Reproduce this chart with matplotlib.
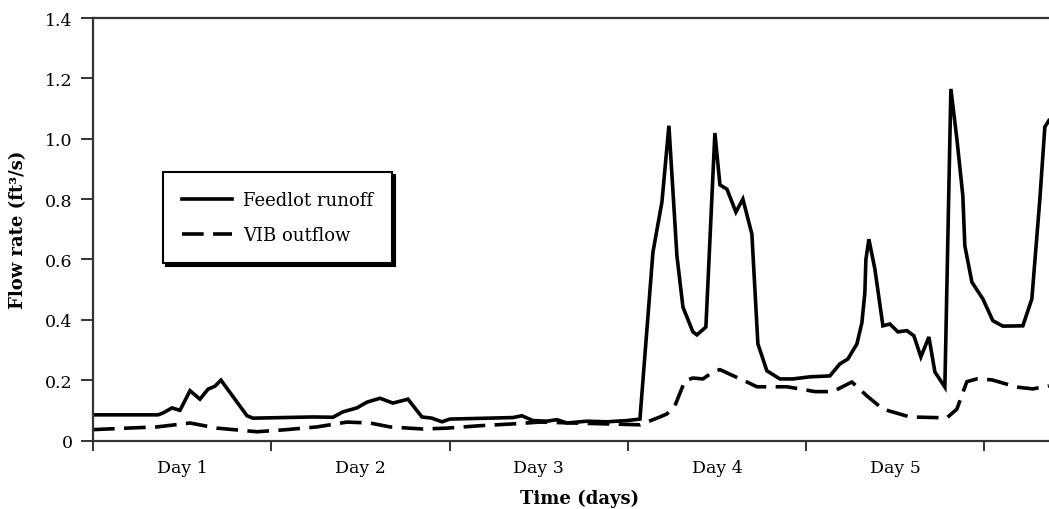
import matplotlib
matplotlib.use("Agg")
import matplotlib.pyplot as plt
from matplotlib.ticker import FixedLocator, NullFormatter

# time in hours from start, flow in ft3/s
runoff_t = [0.0, 8.75, 9.42, 10.63, 11.71, 13.06, 14.40, 15.48, 16.42, 17.23,
            20.73, 21.54, 29.61, 32.30, 33.65, 35.53, 36.88, 38.63, 40.38, 42.40,
            44.28, 45.63, 46.98, 48.05, 56.53, 57.74, 59.22, 61.11, 62.45, 63.80,
            66.49, 69.18, 71.88, 73.63, 75.38, 76.59, 77.53, 78.61, 79.42, 80.76,
            81.30, 82.51, 83.72, 84.40, 85.34, 86.55, 87.49, 88.70, 89.51, 90.72,
            92.47, 94.22, 96.51, 99.20, 100.55, 101.62, 102.84, 103.51, 103.91, 104.05,
            104.45, 105.26, 106.34, 107.28, 108.36, 109.57, 110.51, 111.45, 112.53, 113.34,
            114.68, 115.49, 116.30, 117.10, 117.37, 118.32, 119.80, 121.14, 122.49, 125.18,
            126.39, 127.47, 128.14, 128.68]
runoff_q = [0.085, 0.085, 0.091, 0.108, 0.100, 0.165, 0.137, 0.170, 0.180, 0.200,
            0.082, 0.074, 0.078, 0.077, 0.095, 0.108, 0.127, 0.140, 0.124, 0.137,
            0.078, 0.074, 0.062, 0.071, 0.076, 0.082, 0.066, 0.064, 0.069, 0.058,
            0.064, 0.062, 0.066, 0.071, 0.624, 0.790, 1.043, 0.612, 0.442, 0.360,
            0.350, 0.376, 1.019, 0.847, 0.833, 0.757, 0.800, 0.684, 0.320, 0.231,
            0.204, 0.204, 0.211, 0.214, 0.254, 0.270, 0.320, 0.390, 0.490, 0.600,
            0.667, 0.568, 0.380, 0.386, 0.360, 0.364, 0.347, 0.277, 0.343, 0.227,
            0.177, 1.165, 0.999, 0.811, 0.645, 0.525, 0.469, 0.397, 0.379, 0.380,
            0.469, 0.800, 1.039, 1.060]

vib_t = [0.0, 4.58, 8.61, 13.06, 16.69, 22.07, 25.57, 30.15, 34.19, 37.28,
         39.98, 44.42, 47.65, 52.09, 56.53, 60.16, 64.61, 69.18, 73.63, 76.32,
         77.26, 78.34, 79.68, 80.76, 82.11, 83.45, 84.40, 86.14, 88.03, 89.38,
         93.41, 95.16, 97.18, 99.61, 102.16, 104.18, 106.34, 109.97, 114.95, 116.30,
         117.64, 118.99, 121.01, 124.37, 126.52, 128.68]
vib_q = [0.036, 0.041, 0.045, 0.058, 0.041, 0.029, 0.035, 0.045, 0.061, 0.058,
         0.045, 0.038, 0.041, 0.049, 0.055, 0.061, 0.058, 0.055, 0.052, 0.078,
         0.088, 0.115, 0.198, 0.207, 0.204, 0.227, 0.235, 0.215, 0.194, 0.178,
         0.178, 0.171, 0.162, 0.162, 0.194, 0.148, 0.104, 0.078, 0.075, 0.104,
         0.195, 0.204, 0.201, 0.177, 0.171, 0.181]

day_edges = [0, 24, 48, 72, 96, 120]
day_centers = [12, 36, 60, 84, 108]
day_labels = ["Day 1", "Day 2", "Day 3", "Day 4", "Day 5"]
y_ticks = [0, 0.2, 0.4, 0.6, 0.8, 1.0, 1.2, 1.4]
y_labels = ["0", "0.2", "0.4", "0.6", "0.8", "1.0", "1.2", "1.4"]

plt.rcParams["font.family"] = ["DejaVu Serif"]
plt.rcParams["font.size"] = 13

fig = plt.figure(figsize=(10.49, 5.10), dpi=100)
ax = fig.add_axes([93 / 1049, 68.5 / 510, 956 / 1049, 422.5 / 510])

ax.plot(runoff_t, runoff_q, color="black", lw=2.6, label="Feedlot runoff",
        solid_joinstyle="miter")
ax.plot(vib_t, vib_q, color="black", lw=2.6, linestyle=(0, (6, 2.6)),
        label="VIB outflow")

ax.set_xlim(0, 128.7)
ax.set_ylim(0, 1.4)

spine_col = "#333333"
for s in ["left", "bottom", "top"]:
    ax.spines[s].set_color(spine_col)
    ax.spines[s].set_linewidth(1.6)
ax.spines["right"].set_visible(False)

ax.set_yticks(y_ticks)
ax.set_yticklabels(y_labels)
ax.tick_params(axis="y", direction="out", length=8.5, width=1.4, color=spine_col,
               pad=6, labelsize=12.5)

ax.set_xticks(day_centers)
ax.set_xticklabels(day_labels)
ax.xaxis.set_minor_locator(FixedLocator(day_edges))
ax.xaxis.set_minor_formatter(NullFormatter())
ax.tick_params(axis="x", which="major", length=0, pad=13, labelsize=12.5)
ax.tick_params(axis="x", which="minor", direction="out", length=7.5, width=1.4,
               color=spine_col)

ax.set_xlabel("Time (days)", fontweight="bold", fontsize=13, labelpad=4)
ax.xaxis.set_label_coords(0.509, -0.115)
ax.set_ylabel("Flow rate (ft³/s)", fontweight="bold", fontsize=13, labelpad=13)

leg = ax.legend(loc="upper left", bbox_to_anchor=(0.0732, 0.6355), borderaxespad=0,
                fancybox=False, framealpha=1, edgecolor="black", handlelength=2.8,
                handletextpad=0.6, borderpad=1.05, labelspacing=0.95, fontsize=13,
                shadow={"color": "black", "alpha": 1})
leg.get_frame().set_linewidth(1.5)

fig.savefig("out.png", dpi=100)
